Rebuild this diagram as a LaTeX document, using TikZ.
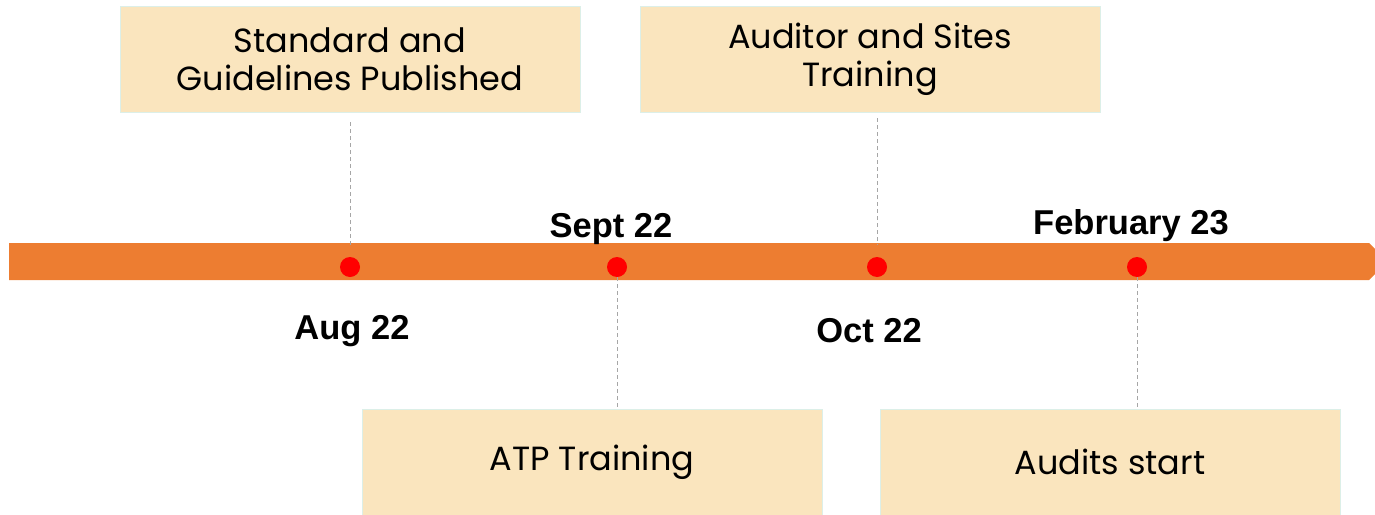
\documentclass[tikz,border=0pt]{standalone}
\usepackage{fontspec}
\setmainfont{Liberation Sans}
\newfontfamily\boxfont{Poppins}
\begin{document}
\begin{tikzpicture}[x=1pt,y=-1pt,
  event/.style={fill=boxfill,draw=boxedge,line width=0.8pt,minimum width=460pt,
    minimum height=106pt,inner sep=0pt,align=center,font=\boxfont\fontsize{33.5}{38}\selectfont},
  dot/.style={circle,fill=dotred,minimum size=20pt,inner sep=0pt},
  datelabel/.style={font=\bfseries\fontsize{34.5}{38}\selectfont},
  leader/.style={draw=leadgray,dashed,dash pattern=on 4pt off 3pt,line width=0.9pt}]
\definecolor{boxfill}{HTML}{FAE5BE}
\definecolor{boxedge}{HTML}{DCEFE8}
\definecolor{barorange}{HTML}{ED7D31}
\definecolor{dotred}{HTML}{FF0000}
\definecolor{leadgray}{HTML}{A6A6A6}
\useasboundingbox (0,0) rectangle (1375,514);
% timeline bar with chamfered right end
\fill[barorange] (9,243) -- (1369,243) -- (1375,249) -- (1375,274) -- (1369,280) -- (9,280) -- cycle;
% milestones
\node[dot] (d1) at (350,267) {};
\node[dot] (d2) at (617,267) {};
\node[dot] (d3) at (877,267) {};
\node[dot] (d4) at (1137,267) {};
% event boxes
\node[event] (b1) at (350,59) {Standard and\\Guidelines Published};
\node[event] (b2) at (870,59) {\raisebox{-3pt}{Auditor and Sites}\\\raisebox{-3pt}{Training}};
\node[event] (b3) at (592,462) {\raisebox{-2pt}{ATP Training}};
\node[event] (b4) at (1110,462) {Audits start};
% leaders
\coordinate (t1) at (350,245);
\coordinate (t3) at (877,245);
\draw[leader] (b1.south -| t1) ++(0,10) -- (t1);
\draw[leader] (b2.south -| t3) ++(0,6) -- (t3);
\draw[leader] (d2.south) -- (d2.south |- b3.north);
\draw[leader] (d4.south) -- (d4.south |- b4.north);
% date labels
\node[datelabel] (l1) at (352,331) {Aug 22};
\node[datelabel] (l2) at (611,229) {Sept 22};
\node[datelabel] (l3) at (869,331) {Oct 22};
\node[datelabel] (l4) at (1131,226) {February 23};
\end{tikzpicture}
\end{document}
